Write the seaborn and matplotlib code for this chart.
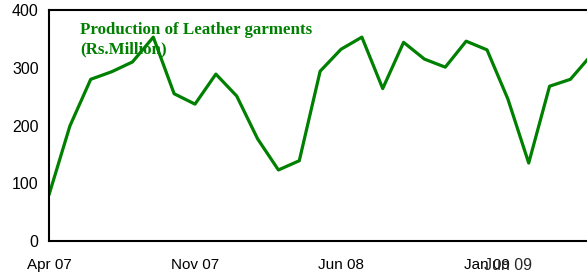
import numpy as np
import pandas as pd
import seaborn as sns
from matplotlib import pyplot as plt

months = ['Apr 07', 'May 07', 'Jun 07', 'Jul 07', 'Aug 07', 'Sep 07', 'Oct 07', 'Nov 07',
          'Dec 07', 'Jan 08', 'Feb 08', 'Mar 08', 'Apr 08', 'May 08', 'Jun 08', 'Jul 08',
          'Aug 08', 'Sep 08', 'Oct 08', 'Nov 08', 'Dec 08', 'Jan 09', 'Feb 09', 'Mar 09',
          'Apr 09', 'May 09', 'Jun 09']
production = [80, 199, 280, 293, 310, 353, 255, 237, 289, 251, 177, 123, 139, 294,
              332, 353, 264, 344, 315, 301, 346, 331, 246, 135, 268, 280, 322]
tick_labels = ['Apr 07', 'Nov 07', 'Jun 08', 'Jan 09']

df = pd.DataFrame({'idx': range(len(months)), 'Month': months, 'Production': production})

sns.set_style('white')
plt.rcParams['font.family'] = ['Liberation Sans', 'DejaVu Sans']

fig = plt.figure(figsize=(5.87, 2.78), dpi=100)
ax = fig.add_axes([49 / 587, 1 - 241 / 278, 538 / 587, 231 / 278])
ax.patch.set_visible(False)

sns.lineplot(data=df, x='idx', y='Production', color='#008000', linewidth=2.3, ax=ax)

ax.set_xlim(0, 538 / (146 / 7))
ax.set_ylim(0, 400)
ax.set_yticks([0, 100, 200, 300, 400])
ax.set_xticks([months.index(m) for m in tick_labels])
ax.set_xticklabels(tick_labels)
# the stray "Jun 09" label sits near Feb 09 in the original
ax.set_xticks([months.index('Feb 09')], minor=True)
ax.set_xticklabels(['Jun 09'], minor=True, fontsize=11.5)
ax.tick_params(axis='x', which='minor', length=0, pad=12)
ax.tick_params(axis='both', which='major', direction='out', length=4, width=1.2,
               labelsize=11, color='black', labelcolor='black')
ax.tick_params(axis='y', which='major', labelsize=11.5)
ax.tick_params(axis='x', which='major', pad=8)
ax.set_xlabel('')
ax.set_ylabel('')

for s in ['left', 'bottom', 'top']:
    ax.spines[s].set_color('black')
    ax.spines[s].set_linewidth(1.5)
ax.spines['right'].set_visible(False)

ax.text(80 / 587, 1 - 22 / 278, 'Production of Leather garments\n(Rs.Million)',
        transform=fig.transFigure, color='#008000', fontsize=12.2, fontweight='bold',
        family=['Liberation Serif'], va='top', ha='left', linespacing=1.3)

fig.savefig('out.png', dpi=100)
